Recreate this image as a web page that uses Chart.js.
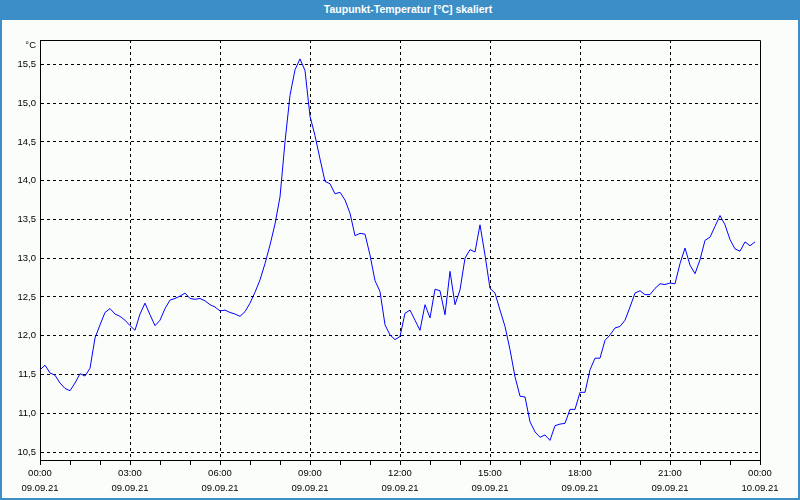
<!DOCTYPE html>
<html>
<head>
<meta charset="utf-8">
<script src="https://cdn.jsdelivr.net/npm/chart.js@4/dist/chart.umd.min.js"></script>
<style>
  html, body { margin: 0; padding: 0; background: #fbfdfb; }
  #wrap { position: absolute; left: 0; top: 0; width: 800px; height: 500px; }
  #title {
    position: absolute; left: 0; top: 0; width: 800px; height: 20px;
    background: #3c8fc6; color: #fff; text-align: center;
    font: bold 10.5px "Liberation Sans", sans-serif; line-height: 19px;
    padding-left: 16px; box-sizing: border-box;
  }
  #frame {
    position: absolute; left: 0; top: 0; width: 800px; height: 500px; box-sizing: border-box;
    border-left: 2px solid #3c8fc6; border-right: 2px solid #3c8fc6; border-bottom: 2px solid #3c8fc6;
    pointer-events: none;
  }
</style>
</head>
<body>
<div id="wrap"><canvas id="chart"></canvas></div>
<div id="title">Taupunkt-Temperatur [°C] skaliert</div>
<div id="frame"></div>
<script>
// dew point readings, one every 10 minutes from 00:00 (09.09.21)
const stepMinutes = 10;
const dewPoint = [
  11.56, 11.62, 11.52, 11.49, 11.39, 11.32, 11.29, 11.39, 11.51, 11.48,
  11.58, 11.97, 12.14, 12.30, 12.35, 12.28, 12.25, 12.20, 12.13, 12.07,
  12.28, 12.42, 12.27, 12.13, 12.20, 12.35, 12.46, 12.48, 12.51, 12.55,
  12.48, 12.47, 12.48, 12.45, 12.40, 12.37, 12.32, 12.33, 12.30, 12.28,
  12.25, 12.31, 12.42, 12.56, 12.72, 12.93, 13.17, 13.44, 13.79, 14.50,
  15.10, 15.43, 15.57, 15.42, 14.83, 14.58, 14.28, 13.99, 13.96, 13.83,
  13.85, 13.75, 13.58, 13.29, 13.32, 13.31, 13.04, 12.71, 12.57, 12.14,
  12.01, 11.95, 11.99, 12.29, 12.33, 12.20, 12.07, 12.40, 12.23, 12.60,
  12.58, 12.27, 12.83, 12.40, 12.59, 13.00, 13.11, 13.08, 13.43, 13.04,
  12.61, 12.55, 12.33, 12.12, 11.82, 11.47, 11.22, 11.21, 10.89, 10.76,
  10.69, 10.72, 10.65, 10.84, 10.86, 10.87, 11.05, 11.05, 11.27, 11.27,
  11.56, 11.71, 11.71, 11.94, 12.01, 12.10, 12.12, 12.20, 12.37, 12.55,
  12.58, 12.53, 12.53, 12.61, 12.67, 12.66, 12.68, 12.67, 12.93, 13.13,
  12.91, 12.80, 12.98, 13.23, 13.27, 13.41, 13.55, 13.43, 13.24, 13.12,
  13.09, 13.21, 13.16, 13.21
];

const tickTimes = ['00:00', '03:00', '06:00', '09:00', '12:00', '15:00', '18:00', '21:00', '00:00'];
const tickDates = ['09.09.21', '09.09.21', '09.09.21', '09.09.21', '09.09.21', '09.09.21', '09.09.21', '09.09.21', '10.09.21'];
const yTicks = [10.5, 11.0, 11.5, 12.0, 12.5, 13.0, 13.5, 14.0, 14.5, 15.0, 15.5];
const unitLabel = '°C';
const unitPos = 15.75;

const points = dewPoint.map((v, i) => ({ x: i * stepMinutes, y: v }));

// black box around the plot area (top and right sides)
const frameBox = {
  id: 'frameBox',
  afterDraw(chart) {
    const { ctx, chartArea: a } = chart;
    ctx.save();
    ctx.strokeStyle = '#000';
    ctx.lineWidth = 1;
    ctx.beginPath();
    ctx.moveTo(Math.round(a.left) + 0.5, Math.round(a.top) + 0.5);
    ctx.lineTo(Math.round(a.right) + 0.5, Math.round(a.top) + 0.5);
    ctx.lineTo(Math.round(a.right) + 0.5, Math.round(a.bottom) + 0.5);
    ctx.stroke();
    ctx.restore();
  }
};

new Chart(document.getElementById('chart'), {
  type: 'line',
  data: {
    datasets: [{
      data: points,
      borderColor: '#0000ff',
      borderWidth: 1,
      pointRadius: 0,
      tension: 0,
      fill: false
    }]
  },
  options: {
    responsive: true,
    maintainAspectRatio: false,
    animation: false,
    layout: { padding: { left: 0, right: 40, top: 40, bottom: 0 } },
    plugins: { legend: { display: false }, tooltip: { enabled: false } },
    scales: {
      x: {
        type: 'linear',
        min: 0,
        max: 1440,
        afterBuildTicks(scale) {
          const t = [];
          for (let m = 0; m <= 1440; m += 60) t.push({ value: m });
          scale.ticks = t;
        },
        afterFit(scale) { scale.height = 40; },
        ticks: {
          autoSkip: false,
          maxRotation: 0,
          padding: 1,
          color: '#000',
          font: { family: 'Liberation Sans', size: 9.5, lineHeight: 1.6 },
          callback(value) {
            if (value % 180 !== 0) return '';
            const i = value / 180;
            return [tickTimes[i], tickDates[i]];
          }
        },
        grid: {
          color: (ctx) => (ctx.tick && ctx.tick.value % 180 === 0 && ctx.tick.value > 0 && ctx.tick.value < 1440) ? '#000' : 'rgba(0,0,0,0)',
          tickColor: '#000',
          tickLength: 5,
          drawTicks: true
        },
        border: { display: true, color: '#000', width: 1, dash: [3, 3] }
      },
      y: {
        min: 10.397,
        max: 15.814,
        afterBuildTicks(scale) {
          scale.ticks = yTicks.map(v => ({ value: v })).concat([{ value: unitPos }]);
        },
        afterFit(scale) { scale.width = 40; },
        ticks: {
          padding: 4,
          color: '#000',
          font: { family: 'Liberation Sans', size: 9.5 },
          callback(value) {
            if (value === unitPos) return unitLabel;
            return value.toFixed(1).replace('.', ',');
          }
        },
        grid: {
          color: (ctx) => (ctx.tick && ctx.tick.value !== unitPos) ? '#000' : 'rgba(0,0,0,0)',
          drawTicks: false
        },
        border: { display: true, color: '#000', width: 1, dash: [3, 3] }
      }
    }
  },
  plugins: [frameBox]
});
</script>
</body>
</html>
